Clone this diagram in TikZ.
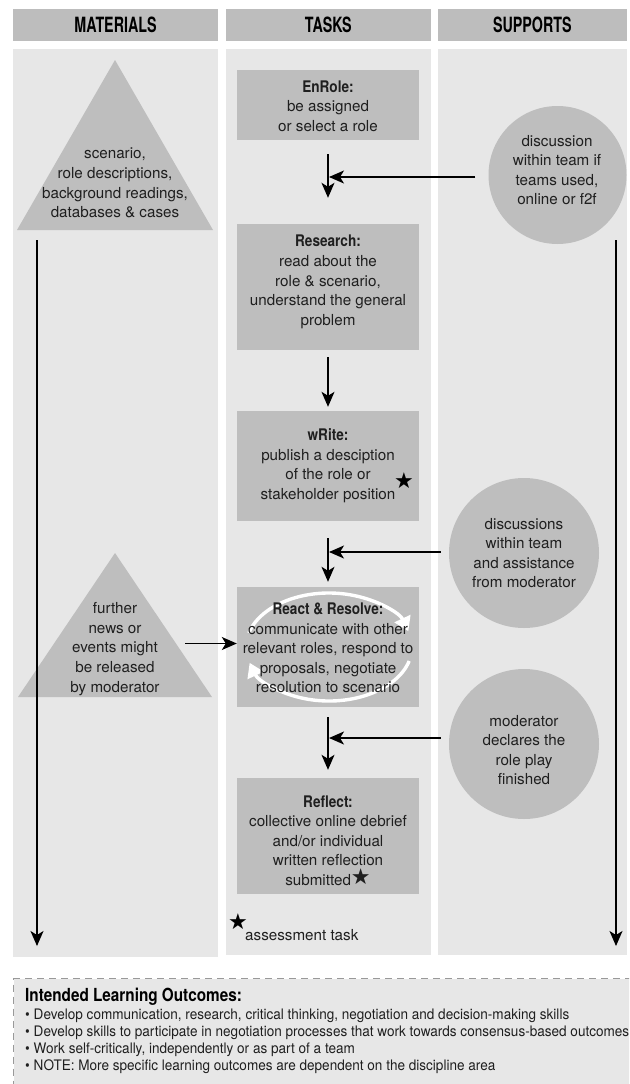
\documentclass[tikz,border=0pt]{standalone}
\usepackage{fontspec}
\setmainfont{TeX Gyre Heros}
\newfontfamily\hcond{TeX Gyre Heros}[FakeStretch=0.68]
\newfontfamily\tcond{TeX Gyre Heros}[FakeStretch=0.85]
\newfontfamily\bcond{TeX Gyre Heros}[FakeStretch=0.935]
\newfontfamily\symf{DejaVu Sans}
\newcommand\ttlfont{\tcond\bfseries\fontsize{16}{19.6}\selectfont}
\usetikzlibrary{arrows.meta,calc}
\definecolor{hdrgray}{HTML}{BDBDBD}
\definecolor{colbg}{HTML}{E7E7E7}
\definecolor{shapegray}{HTML}{BEBEBE}
\definecolor{txt}{HTML}{1F1F1F}
\tikzset{
  hdr/.style={fill=hdrgray, inner sep=0, minimum height=31.7pt, text=black,
    font=\hcond\bfseries\fontsize{21}{22}\selectfont},
  colfill/.style={fill=colbg, inner sep=0, anchor=north west},
  taskbox/.style={fill=shapegray, inner sep=0, minimum width=182pt},
  supcirc/.style={circle, fill=shapegray, inner sep=0},
  bodytxt/.style={align=center, inner sep=0, text=txt,
    font=\fontsize{15.2}{19.6}\selectfont},
  starmark/.style={inner sep=0, text=black, font=\symf\fontsize{22}{22}\selectfont},
  arr/.style={line width=1.4pt, draw=black, -{Stealth[length=15pt,width=13pt,inset=4pt]}},
  cyc/.style={draw=white, line width=3.4pt, -{Triangle[length=14pt,width=17pt]}},
  bul/.style={anchor=west, inner sep=0, text=txt, font=\bcond\fontsize{14.5}{17}\selectfont}
}
\begin{document}
\begin{tikzpicture}[x=1pt,y=-1pt]
\useasboundingbox (0,0) rectangle (629,1084);
\clip (0,0) rectangle (629,1084);
\fill[white] (0,0) rectangle (629,1084);

% headers
\node[hdr, minimum width=205pt] (hmat) at (115.5,24.85) {MATERIALS};
\node[hdr, minimum width=204.7pt] (htask) at (328.35,24.85) {TASKS};
\node[hdr, minimum width=189.3pt] (hsup) at (532.35,24.85) {SUPPORTS};

% columns
\node[colfill, minimum width=205pt, minimum height=908pt] (cmat) at (13,49) {};
\node[colfill, minimum width=204.7pt, minimum height=906pt] (ctask) at (226,49) {};
\node[colfill, minimum width=189.3pt, minimum height=906pt] (csup) at (437.7,49) {};

% materials
\fill[shapegray] (115,60) -- (213,230) -- (17,230) -- cycle;
\node[bodytxt] (mat1) at (115,183) {scenario,\\role descriptions,\\background readings,\\databases \& cases};
\fill[shapegray] (115,553) -- (212,697) -- (18,697) -- cycle;
\node[bodytxt] (mat2) at (115,649) {further\\news or\\events might\\be released\\by moderator};

% task boxes
\node[taskbox, minimum height=70pt] (enrole) at (328,105) {};
\node[bodytxt] (enrolet) at (328,106) {{\ttlfont EnRole:}\\be assigned\\or select a role};
\node[taskbox, minimum height=126pt] (research) at (328,287) {};
\node[bodytxt] (researcht) at (328,282) {{\ttlfont Research:}\\read about the\\role \& scenario,\\understand the general\\problem};
\node[taskbox, minimum height=110pt] (write) at (328,466) {};
\node[bodytxt] (writet) at (328,465.5) {{\ttlfont wRite:}\\publish a desciption\\of the role or\\stakeholder position};
\node[starmark] (wstar) at (404,481) {★};
\node[taskbox, minimum height=120pt] (react) at (328,647) {};
\draw[cyc] (329,647) ++(15:83 and 54) arc[start angle=15, end angle=163, x radius=83, y radius=54];
\draw[cyc] (329,647) ++(195:83 and 54) arc[start angle=195, end angle=343, x radius=83, y radius=54];
\node[bodytxt] (reactt) at (328,648) {{\ttlfont React \& Resolve:}\\communicate with other\\relevant roles, respond to\\proposals, negotiate\\resolution to scenario};
\node[taskbox, minimum height=116pt] (reflect) at (328,836) {};
\node[bodytxt] (reflectt) at (328,840.5) {{\ttlfont Reflect:}\\collective online debrief\\and/or individual\\written reflection\\submitted\raisebox{1pt}{\symf\fontsize{22}{22}\selectfont ★}};

% supports
\node[supcirc, minimum size=138pt] (sup1) at (557.5,175) {};
\node[bodytxt] (sup1t) at (557,170) {discussion\\within team if\\teams used,\\online or f2f};
\node[supcirc, minimum size=150pt] (sup2) at (524,553) {};
\node[bodytxt] (sup2t) at (524,553) {discussions\\within team\\and assistance\\from moderator};
\node[supcirc, minimum size=150pt] (sup3) at (524,744) {};
\node[bodytxt] (sup3t) at (524,750) {moderator\\declares the\\role play\\finished};

% vertical task arrows
\draw[arr] ($(enrole.south)+(0,14)$) -- ($(research.north)+(0,-26)$);
\draw[arr] ($(research.south)+(0,7)$) -- ($(write.north)+(0,-4)$);
\draw[arr] ($(write.south)+(0,17)$) -- ($(react.north)+(0,-5)$);
\draw[arr] ($(react.south)+(0,10)$) -- ($(reflect.north)+(0,-8)$);

% horizontal arrows from supports
\coordinate (j1) at (329,177);
\coordinate (j2) at (329,552);
\coordinate (j3) at (329,738);
\draw[arr] ($(sup1.west)+(-13,2)$) -- (j1);
\draw[arr] ($(sup2.west)+(-8,-1)$) -- (j2);
\draw[arr] ($(sup3.west)+(-8,-6)$) -- (j3);

% materials to react
\coordinate (t2e) at (185,643.5);
\draw[arr] (t2e) -- (react.west |- t2e);

% long arrows
\coordinate (lstart) at (37,240);
\coordinate (lend) at (37,946);
\draw[arr] (lstart) -- (lend);
\coordinate (rstart) at (616,240);
\coordinate (rend) at (616,946);
\draw[arr] (rstart) -- (rend);

% assessment legend
\node[starmark] (astar) at (238,922) {★};
\node[bodytxt, anchor=west] (atext) at (245,935) {assessment task};

% outcomes
\node[anchor=north west, fill=colbg, draw=gray!80, dash pattern=on 7pt off 5pt, line width=1.2pt, minimum width=640pt, minimum height=130pt] (ilo) at (13,978) {};
\node[anchor=west, inner sep=0, text=black, font=\tcond\bfseries\fontsize{18}{20}\selectfont] (ilot) at (25,997) {Intended Learning Outcomes:};
\node[bul] (b1) at (25,1016) {• Develop communication, research, critical thinking, negotiation and decision-making skills};
\node[bul] (b2) at (25,1033) {• Develop skills to participate in negotiation processes that work towards consensus-based outcomes};
\node[bul] (b3) at (25,1050) {• Work self-critically, independently or as part of a team};
\node[bul] (b4) at (25,1067) {• NOTE: More specific learning outcomes are dependent on the discipline area};
\end{tikzpicture}
\end{document}
